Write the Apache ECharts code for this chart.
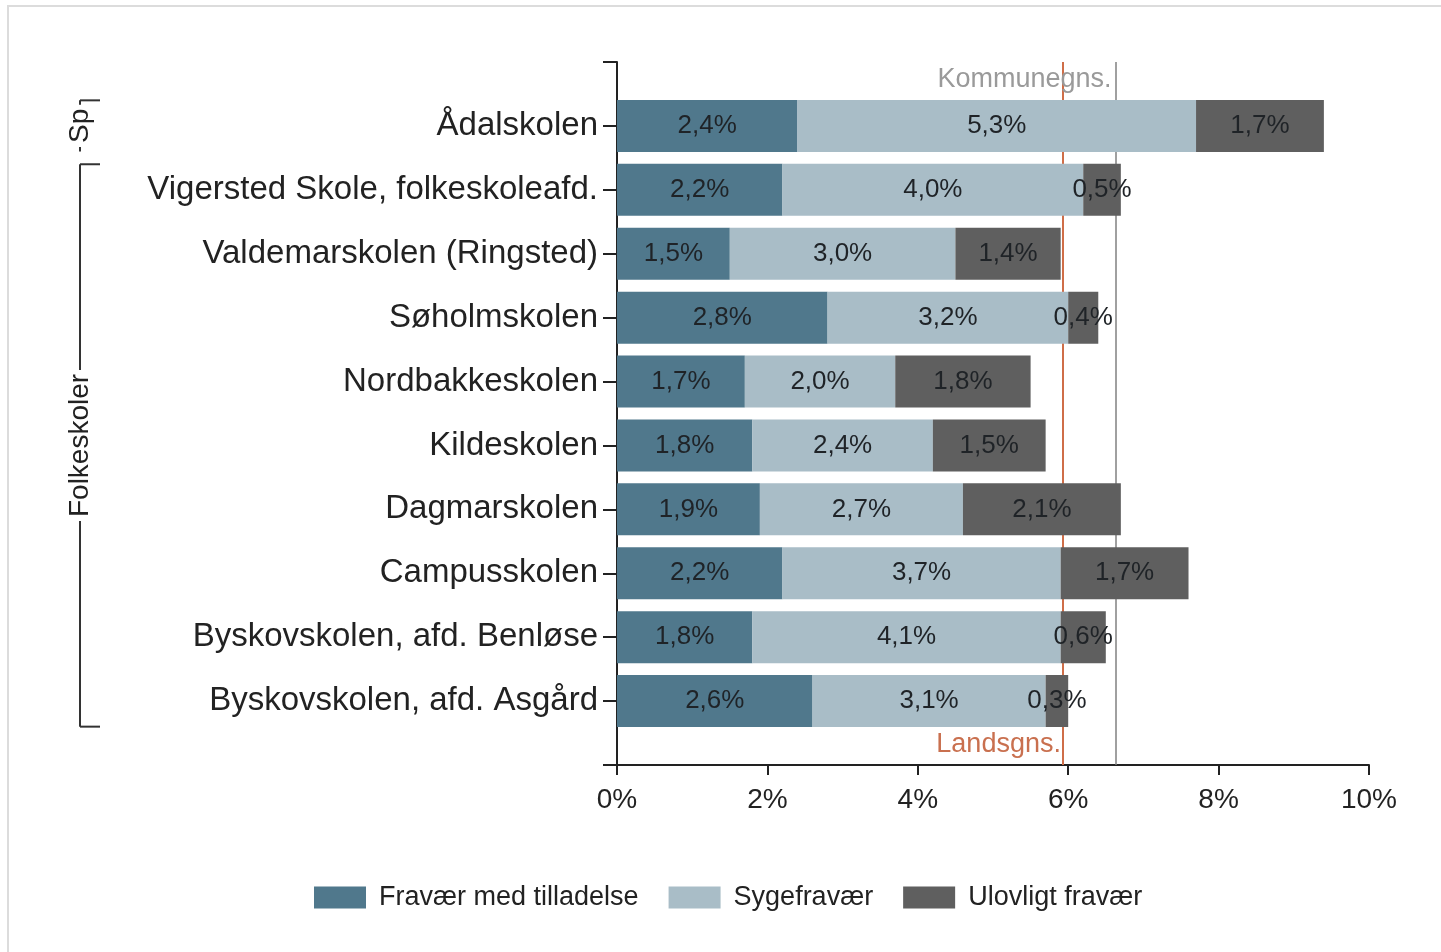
<!DOCTYPE html>
<html>
<head>
<meta charset="utf-8">
<script src="https://cdn.jsdelivr.net/npm/echarts@6/dist/echarts.min.js"></script>
<style>
  html, body { margin: 0; padding: 0; background: #fff; }
  #chart { width: 1441px; height: 952px; }
</style>
</head>
<body>
<div id="chart"></div>
<script>
const categories = ['Ådalskolen', 'Vigersted Skole, folkeskoleafd.', 'Valdemarskolen (Ringsted)', 'Søholmskolen', 'Nordbakkeskolen', 'Kildeskolen', 'Dagmarskolen', 'Campusskolen', 'Byskovskolen, afd. Benløse', 'Byskovskolen, afd. Asgård'];
const fravaerMedTilladelse = [2.4, 2.2, 1.5, 2.8, 1.7, 1.8, 1.9, 2.2, 1.8, 2.6];
const sygefravaer = [5.3, 4.0, 3.0, 3.2, 2.0, 2.4, 2.7, 3.7, 4.1, 3.1];
const ulovligtFravaer = [1.7, 0.5, 1.4, 0.4, 1.8, 1.5, 2.1, 1.7, 0.6, 0.3];
const seriesNames = ['Fravær med tilladelse', 'Sygefravær', 'Ulovligt fravær'];
const xMin = 0, xMax = 10, xInterval = 2;
const landsgns = 5.93;
const kommunegns = 6.63;
const groups = [
  { name: 'Sp', from: 0, to: 0 },
  { name: 'Folkeskoler', from: 1, to: 9 }
];

const FONT = '"Liberation Sans", Arial, sans-serif';
const pad = arr => ['-', ...arr, '-'];
const yData = ['', ...categories, ''];

const chart = echarts.init(document.getElementById('chart'), null, { renderer: 'canvas' });

const labelCfg = {
  show: true,
  position: 'inside',
  fontFamily: FONT,
  fontSize: 26,
  color: '#1f2327',
  formatter: p => (p.value === '-' || p.value == null) ? '' : String(p.value.toFixed(1)).replace('.', ',') + '%'
};

function barSeries(name, data, color) {
  return {
    name: name,
    type: 'bar',
    stack: 'total',
    data: pad(data),
    barWidth: 52,
    itemStyle: { color: color },
    label: labelCfg,
    z: 3
  };
}

const option = {
  animation: false,
  backgroundColor: '#fff',
  grid: { left: 617, right: 72, top: 62, bottom: 187, containLabel: false },
  legend: {
    data: seriesNames,
    left: 309,
    top: 879,
    icon: 'rect',
    itemWidth: 52,
    itemHeight: 22,
    itemGap: 30,
    textStyle: { fontFamily: FONT, fontSize: 27, color: '#222', padding: [0, 0, 0, 8] }
  },
  xAxis: {
    type: 'value',
    min: xMin,
    max: xMax,
    interval: xInterval,
    axisLine: { show: true, lineStyle: { color: '#222', width: 2 } },
    axisTick: { show: true, length: 10, lineStyle: { color: '#222', width: 2 } },
    splitLine: { show: false },
    axisLabel: { fontFamily: FONT, fontSize: 28, color: '#222', margin: 21, formatter: '{value}%' }
  },
  yAxis: {
    type: 'category',
    inverse: true,
    data: yData,
    boundaryGap: false,
    axisLine: { show: true, lineStyle: { color: '#222', width: 2 } },
    axisTick: { show: true, length: 14, alignWithLabel: true, interval: 0, lineStyle: { color: '#222', width: 2 } },
    axisLabel: { fontFamily: FONT, fontSize: 33, color: '#222', margin: 19, interval: 0 },
    splitLine: { show: false }
  },
  series: [
    barSeries(seriesNames[0], fravaerMedTilladelse, '#50788c'),
    barSeries(seriesNames[1], sygefravaer, '#a9bdc7'),
    barSeries(seriesNames[2], ulovligtFravaer, '#5f5f5f'),
    {
      name: 'avg',
      type: 'line',
      data: [],
      z: 1,
      silent: true,
      markLine: {
        silent: true,
        symbol: 'none',
        animation: false,
        z: 1,
        label: { show: false },
        data: [
          { xAxis: landsgns, lineStyle: { color: '#cf6e48', width: 2, type: 'solid' } },
          { xAxis: kommunegns, lineStyle: { color: '#808080', width: 1.5, type: 'solid' } }
        ]
      }
    }
  ]
};

chart.setOption(option);

function drawGraphics() {
  const yPix = i => chart.convertToPixel({ yAxisIndex: 0 }, i + 1);
  const step = yPix(1) - yPix(0);
  const gridTop = chart.convertToPixel({ yAxisIndex: 0 }, 0);
  const gridBottom = chart.convertToPixel({ yAxisIndex: 0 }, yData.length - 1);
  const xL = chart.convertToPixel({ xAxisIndex: 0 }, landsgns);
  const xK = chart.convertToPixel({ xAxisIndex: 0 }, kommunegns);
  const els = [];
  els.push({
    type: 'rect', silent: true, z: 0,
    shape: { x: 8, y: 6, width: 1450, height: 960 },
    style: { fill: 'none', stroke: '#dcdcdc', lineWidth: 2 }
  });
  els.push({
    type: 'text', z: 10,
    style: { x: xK - 4, y: gridTop + 18, text: 'Kommunegns.', align: 'right', verticalAlign: 'middle',
      font: '27px ' + FONT, fill: '#9a9a9a' }
  });
  els.push({
    type: 'text', z: 10,
    style: { x: xL - 2, y: gridBottom - 20, text: 'Landsgns.', align: 'right', verticalAlign: 'middle',
      font: '27px ' + FONT, fill: '#c9704f' }
  });
  const bx = 80, tickEnd = 100;
  groups.forEach(g => {
    const top = yPix(g.from) - step * 0.4;
    const bottom = yPix(g.to) + step * 0.4;
    const mid = (top + bottom) / 2;
    els.push({ type: 'line', silent: true, shape: { x1: bx, y1: top, x2: bx, y2: bottom }, style: { stroke: '#333', lineWidth: 2 } });
    els.push({ type: 'line', silent: true, shape: { x1: bx, y1: top, x2: tickEnd, y2: top }, style: { stroke: '#333', lineWidth: 2 } });
    if (g.to > g.from) {
      els.push({ type: 'line', silent: true, shape: { x1: bx, y1: bottom, x2: tickEnd, y2: bottom }, style: { stroke: '#333', lineWidth: 2 } });
    }
    els.push({
      type: 'text', z: 10,
      x: bx, y: mid, rotation: Math.PI / 2,
      style: { x: 0, y: 0, text: g.name, align: 'center', verticalAlign: 'middle',
        font: '28px ' + FONT, fill: '#222', backgroundColor: '#fff', padding: [0, 4, 0, 4] }
    });
  });
  chart.setOption({ graphic: { elements: els } });
}
drawGraphics();
</script>
</body>
</html>
